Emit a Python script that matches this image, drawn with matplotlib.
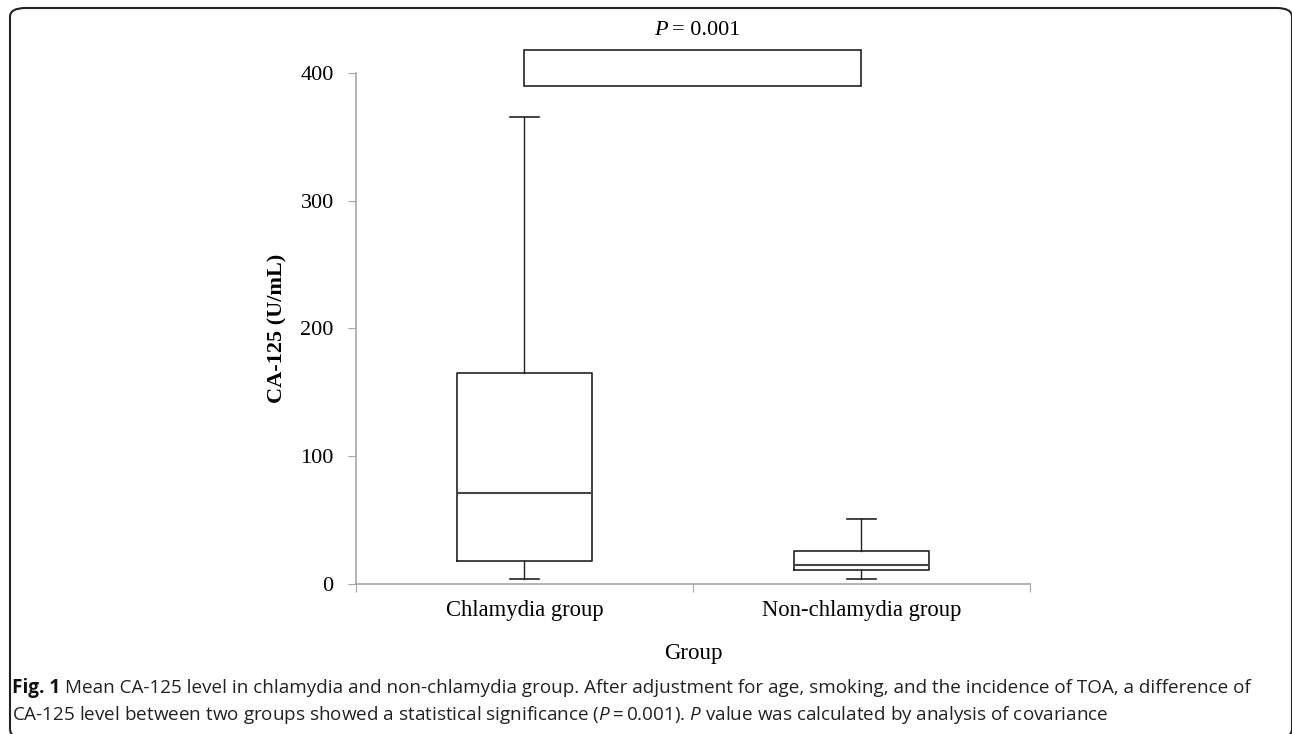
import matplotlib
matplotlib.use('Agg')
import matplotlib.pyplot as plt
from matplotlib.patches import FancyBboxPatch, Rectangle

# box statistics (U/mL)
groups = ['Chlamydia group', 'Non-chlamydia group']
whisker_low = [3.5, 3.4]
q1 = [18, 11]
median = [71, 14.7]
q3 = [165, 25.4]
whisker_high = [366, 50.8]
p_text = '= 0.001'
y_ticks = [0, 100, 200, 300, 400]

caption_1 = ('Mean CA-125 level in chlamydia and non-chlamydia group. After adjustment for age, smoking, '
             'and the incidence of TOA, a difference of')
caption_2 = ('CA-125 level between two groups showed a statistical significance ($\\it{P}$\u2009=\u20090.001). '
             '$\\it{P}$ value was calculated by analysis of covariance')

serif = 'Liberation Serif'
axis_grey = '#a6a6a6'
cap_font = ['Open Sans', 'DejaVu Sans']
cap_size = 13.6

plt.rcParams['mathtext.fontset'] = 'custom'
plt.rcParams['mathtext.rm'] = 'Open Sans'
plt.rcParams['mathtext.it'] = 'Open Sans:italic'

W, H = 1292, 734
fig = plt.figure(figsize=(W / 100, H / 100), dpi=100)
ax = fig.add_axes([0.2755, 0.205, 0.5217, 0.695])

stats = []
for i, g in enumerate(groups):
    stats.append({'label': g, 'whislo': whisker_low[i], 'q1': q1[i], 'med': median[i],
                  'q3': q3[i], 'whishi': whisker_high[i], 'fliers': []})

ax.bxp(stats, positions=[1, 2], widths=0.4, showfliers=False,
       boxprops=dict(color='#222222', linewidth=1.2),
       medianprops=dict(color='#444444', linewidth=1.5),
       whiskerprops=dict(color='#222222', linewidth=1.0),
       capprops=dict(color='#222222', linewidth=1.2),
       capwidths=0.088)

ax.set_xlim(0.5, 2.5)
ax.set_ylim(0, 400)
ax.set_yticks(y_ticks)
ax.set_yticklabels([str(v) for v in y_ticks], fontfamily=serif, fontsize=16)

# category labels centred, ticks on the category boundaries
ax.set_xticks([0.5, 1.5, 2.5])
ax.set_xticklabels([])
ax.set_xticks([1, 2], minor=True)
ax.set_xticklabels(groups, minor=True, fontfamily=serif, fontsize=16.3)
ax.tick_params(axis='x', which='minor', length=0, pad=12)
ax.tick_params(axis='x', which='major', length=6, color=axis_grey, direction='out')
ax.tick_params(axis='y', length=6, color=axis_grey, direction='out', pad=10)

for s in ['top', 'right']:
    ax.spines[s].set_visible(False)
for s in ['left', 'bottom']:
    ax.spines[s].set_color(axis_grey)
    ax.spines[s].set_linewidth(1.2)

ax.set_ylabel('CA-125 (U/mL)', fontfamily=serif, fontsize=16, fontweight='bold', labelpad=9)
ax.set_xlabel('Group', fontfamily=serif, fontsize=16.5, labelpad=16)

# significance bracket drawn as a box between the two groups
ax.add_patch(Rectangle((1, 390), 1, 28, fill=False, edgecolor='#222222',
                       linewidth=1.2, clip_on=False))
ax.text(1.424, 426, 'P', ha='right', va='bottom', fontfamily=serif, fontstyle='italic',
        fontsize=16, clip_on=False)
ax.text(1.438, 426, p_text, ha='left', va='bottom', fontfamily=serif,
        fontsize=16, clip_on=False)

# caption
renderer = fig.canvas.get_renderer()
cap_y1 = 1 - 688 / H
cap_y2 = 1 - 715 / H
fig_lbl = fig.text(12 / W, cap_y1, 'Fig. 1', fontfamily=cap_font, fontweight='bold',
                   fontsize=cap_size, color='#111111', va='center')
bb = fig_lbl.get_window_extent(renderer)
fig.text((bb.x1 + 5) / W, cap_y1, caption_1, fontfamily=cap_font, fontsize=cap_size,
         color='#222222', va='center')
fig.text(12 / W, cap_y2, caption_2, fontfamily=cap_font, fontsize=cap_size,
         color='#222222', va='center')

# rounded outer frame, running off the right and bottom edges
frame = FancyBboxPatch((10 / W, -4 / H), 1282 / W, 730 / H,
                       boxstyle='round,pad=0,rounding_size=0.012',
                       transform=fig.transFigure, fill=False,
                       edgecolor='#222222', linewidth=1.5)
fig.patches.append(frame)

fig.savefig('out.png', dpi=100)
